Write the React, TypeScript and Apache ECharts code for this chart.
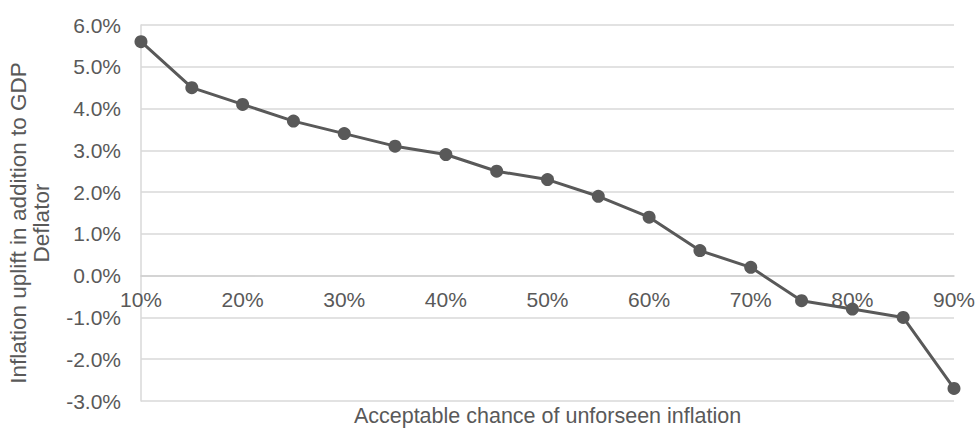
import React, { useEffect, useRef } from "react";
import * as echarts from "echarts";

const categories = ["10%", "15%", "20%", "25%", "30%", "35%", "40%", "45%", "50%", "55%", "60%", "65%", "70%", "75%", "80%", "85%", "90%"];
const upliftValues = [5.6, 4.5, 4.1, 3.7, 3.4, 3.1, 2.9, 2.5, 2.3, 1.9, 1.4, 0.6, 0.2, -0.6, -0.8, -1.0, -2.7];
const yTicks = { min: -3, max: 6, interval: 1 };
const xAxisTitle = "Acceptable chance of unforseen inflation";
const yAxisTitle = "Inflation uplift in addition to GDP\nDeflator";

export default function App() {
  const ref = useRef<HTMLDivElement>(null);
  useEffect(() => {
    if (!ref.current) return;
    const chart = echarts.init(ref.current, undefined, { renderer: "svg" });
    const font = "Liberation Sans, Arial, sans-serif";
    const textColor = "#595959";
    chart.setOption({
      animation: false,
      backgroundColor: "#ffffff",
      grid: { left: 141, right: 24, top: 25, bottom: 27, containLabel: false, outerBoundsMode: "none" },
      xAxis: {
        type: "category",
        data: categories,
        boundaryGap: false,
        offset: -125,
        name: xAxisTitle,
        nameLocation: "middle",
        nameGap: 129,
        nameTextStyle: { color: textColor, fontSize: 21.5, fontFamily: font },
        axisLine: { onZero: false, lineStyle: { color: "#d0d0d0", width: 1.5 } },
        axisTick: { show: false },
        axisLabel: { interval: 1, color: textColor, fontSize: 21, fontFamily: font, margin: 13 },
        splitLine: { show: false },
      },
      yAxis: {
        type: "value",
        min: yTicks.min,
        max: yTicks.max,
        interval: yTicks.interval,
        name: yAxisTitle,
        nameLocation: "middle",
        nameGap: 88,
        nameRotate: 90,
        nameTextStyle: { color: textColor, fontSize: 22.5, fontFamily: font, lineHeight: 23, align: "center", padding: [0, 20, 0, 0] },
        axisLine: { show: true, lineStyle: { color: "#d9d9d9", width: 1.5 } },
        axisTick: { show: false },
        axisLabel: {
          color: textColor,
          fontSize: 21,
          fontFamily: font,
          margin: 20,
          formatter: (v: number) => v.toFixed(1) + "%",
        },
        splitLine: { show: true, lineStyle: { color: "#d9d9d9", width: 1.5 } },
      },
      series: [
        {
          type: "line",
          data: upliftValues,
          symbol: "circle",
          symbolSize: 13,
          itemStyle: { color: "#595959" },
          lineStyle: { color: "#595959", width: 3 },
        },
      ],
    });
    return () => chart.dispose();
  }, []);
  return <div ref={ref} style={{ position: "fixed", left: 0, top: 0, width: 978, height: 428 }} />;
}
